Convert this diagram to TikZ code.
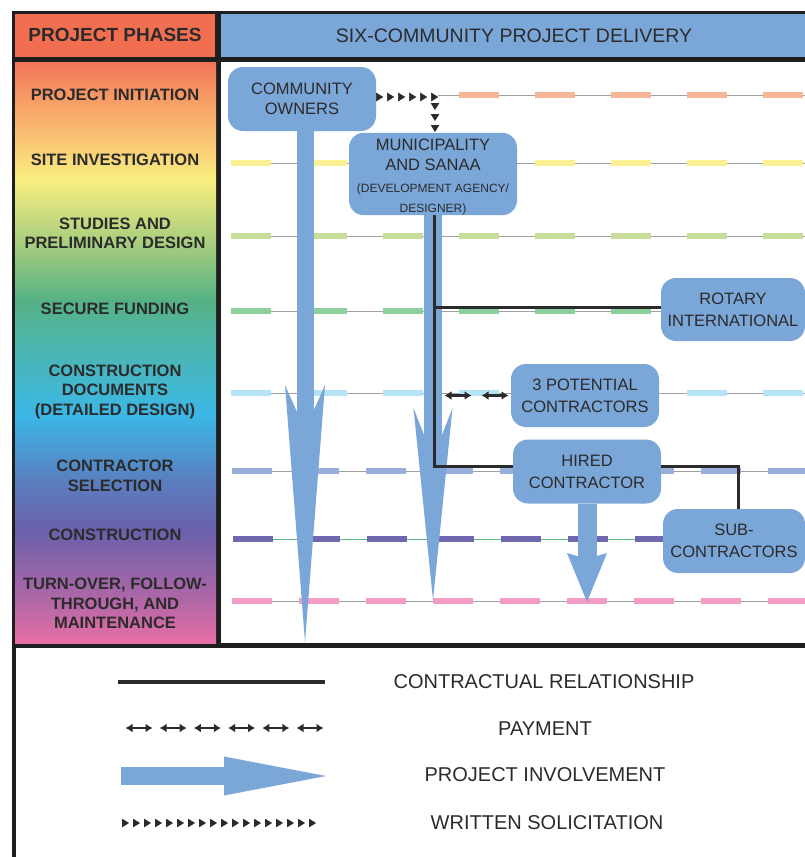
\documentclass[tikz,border=0pt]{standalone}
\usepackage{fontspec}
\setmainfont{Liberation Sans}
\usetikzlibrary{arrows.meta,decorations.markings}

\definecolor{boxblue}{HTML}{7BA6D8}
\definecolor{headred}{HTML}{F26E50}
\definecolor{inkgray}{HTML}{2B2B2B}
\definecolor{framegray}{HTML}{1E1E1E}
\definecolor{ruleline}{HTML}{A0A0A0}
\definecolor{rowa}{HTML}{F8B699}
\definecolor{rowb}{HTML}{FBF193}
\definecolor{rowc}{HTML}{C8DD9A}
\definecolor{rowd}{HTML}{8ED09D}
\definecolor{rowe}{HTML}{B5E3F7}
\definecolor{rowf}{HTML}{98AEDB}
\definecolor{rowg}{HTML}{6F68AE}
\definecolor{rowh}{HTML}{F29CC6}
\definecolor{rowgline}{HTML}{5DBB84}
% colours of the phase column
\definecolor{gra}{HTML}{F37658}
\definecolor{grb}{HTML}{F9BB71}
\definecolor{grc}{HTML}{F9EE80}
\definecolor{grd}{HTML}{9ECA7E}
\definecolor{gre}{HTML}{56B284}
\definecolor{grf}{HTML}{4DB6AE}
\definecolor{grg}{HTML}{3BB7E6}
\definecolor{grh}{HTML}{5A7FC0}
\definecolor{gri}{HTML}{6A60AB}
\definecolor{grj}{HTML}{B067A7}
\definecolor{grk}{HTML}{E96EA6}
\pgfdeclareverticalshading{phasegrad}{100bp}{color(0bp)=(grk); color(25bp)=(grk);
  color(28.7bp)=(grj); color(34.72bp)=(gri); color(39.03bp)=(grh); color(44.62bp)=(grg);
  color(50.64bp)=(grf); color(54.52bp)=(gre); color(58.82bp)=(grd); color(64.84bp)=(grc);
  color(69.15bp)=(grb); color(75bp)=(gra); color(100bp)=(gra)}

\tikzset{
  party/.style={rectangle, rounded corners=15pt, fill=boxblue, text=inkgray, align=center,
    inner sep=0pt, font=\fontsize{16.5}{22}\selectfont},
  phase/.style={align=center, text=inkgray, font=\bfseries\fontsize{16.5}{19.5}\selectfont},
  legend/.style={text=inkgray, font=\fontsize{20}{22}\selectfont},
  contract/.style={draw=inkgray, line width=3pt},
  involve/.style={draw=boxblue, line width=#1},
  paytip/.tip={Latex[length=7pt,width=9pt]},
  payment/.style 2 args={postaction={decorate, decoration={markings,
    mark=between positions #1 and 1 step #2 with {\draw[inkgray, line width=2.5pt, paytip-paytip] (-13.5pt,0) -- (13.5pt,0);}}}},
  solicit/.style={postaction={decorate, decoration={markings,
    mark=between positions #1 and 1 step 11pt with {\arrow[inkgray]{Triangle[length=7pt,width=8.5pt]}}}}}
}

\begin{document}
\begin{tikzpicture}[x=1pt,y=-1pt]
\useasboundingbox (0,0) rectangle (805,857);
\fill[white] (0,0) rectangle (805,857);

% frame and header
\fill[framegray] (12,11) rectangle (805,648);
\fill[framegray] (12,643) rectangle (16,857);
\fill[headred] (15,14) rectangle (215,57);
\fill[boxblue] (221,14) rectangle (805,57);
\shade[shading=phasegrad] (15,62) rectangle (216,643);
\fill[white] (221,62) rectangle (805,643);
\node[text=inkgray, font=\bfseries\fontsize{19}{20}\selectfont] (phasehead) at (115,34.5) {PROJECT PHASES};
\node[text=inkgray, font=\fontsize{19.5}{22}\selectfont] (deliveryhead) at (514,36) {SIX-COMMUNITY PROJECT DELIVERY};

% phases
\foreach \y/\txt [count=\i] in {95/{PROJECT INITIATION}, 160/{SITE INVESTIGATION},
    233.5/{STUDIES AND\\PRELIMINARY DESIGN}, 309/{SECURE FUNDING},
    391.5/{CONSTRUCTION\\DOCUMENTS\\(DETAILED DESIGN)}, 476/{CONTRACTOR\\SELECTION},
    535/{CONSTRUCTION}, 603.5/{TURN-OVER, FOLLOW-\\THROUGH, AND\\MAINTENANCE}}
  \node[phase] (phase\i) at (115,\y) {\txt};

\foreach \y/\col/\lc/\x/\ph/\gap in {95/rowa/ruleline/438/55pt/36pt, 163/rowb/ruleline/231/0pt/36pt,
    236/rowc/ruleline/231/0pt/36pt, 311/rowd/ruleline/231/0pt/36pt, 393/rowe/ruleline/231/0pt/36pt,
    471/rowf/ruleline/232/0pt/27pt, 539/rowg/rowgline/233/0pt/27pt, 601/rowh/ruleline/232/0pt/27pt}
{
  \draw[\lc, line width=1pt] (\x,\y) -- (805,\y);
  \draw[\col, line width=5.5pt, dash pattern=on 40pt off \gap, dash phase=\ph] (\x,\y) -- (805,\y);
}

% parties
\node[party, minimum width=148pt, minimum height=64pt] (owners) at (302,99) {COMMUNITY\\[-2pt]OWNERS};
\node[party, minimum width=168pt, minimum height=82pt] (muni) at (433,174)
  {\rule{0pt}{18pt}MUNICIPALITY\\[-2pt]AND SANAA\\{\fontsize{12}{14}\selectfont (DEVELOPMENT AGENCY/}\\[-2pt]{\fontsize{12}{14}\selectfont DESIGNER)}};
\node[party, minimum width=144pt, minimum height=63pt] (rotary) at (733,309.5) {ROTARY\\INTERNATIONAL};
\node[party, minimum width=148pt, minimum height=63pt] (potential) at (585,395.5) {3 POTENTIAL\\CONTRACTORS};
\node[party, minimum width=148pt, minimum height=64pt] (hired) at (587,471.5) {HIRED\\CONTRACTOR};
\node[party, minimum width=142pt, minimum height=64pt] (sub) at (734,541) {SUB-\\CONTRACTORS};

% project involvement
\coordinate (ownersend) at (305,642);
\coordinate (muniend) at (433,600);
\coordinate (hiredend) at (587,602);
\draw[involve=17pt, -{Stealth[length=257pt,width=40pt,inset=45pt,line width=0pt]}] (owners.south -| ownersend) -- (ownersend);
\draw[involve=18pt, -{Stealth[length=192pt,width=39pt,inset=50pt,line width=0pt]}] (muni.south) -- (muniend);
\draw[involve=19pt, -{Stealth[length=49pt,width=40pt,inset=6pt,line width=0pt]}] (hired.south) -- (hiredend);

% contracts
\coordinate (trunk) at ([xshift=1pt]muni.south);
\draw[contract] (trunk) |- ([yshift=5pt]hired.west);
\draw[contract] (trunk |- rotary.west) ++(0,-2) -- ([yshift=2pt]rotary.west);
\draw[contract] ([yshift=5pt]hired.east) -| ([xshift=4pt]sub.north);

% payment and solicitation
\path[payment={24pt}{37pt}] (trunk |- potential.west) -- (potential.west);
\coordinate (solbend) at (muni.north |- owners.east);
\path[solicit=7pt] ([yshift=2pt]owners.east) -- ([xshift=6pt,yshift=2pt]solbend);
\path[solicit=5pt] ([xshift=2pt,yshift=-6pt]solbend) -- ([xshift=2pt]muni.north);

% legend
\coordinate (lgaA) at (118,682); \coordinate (lgaB) at (325,682);
\coordinate (lgbA) at (125,728); \coordinate (lgbB) at (324,728);
\coordinate (lgcA) at (121,776); \coordinate (lgcB) at (326,776);
\coordinate (lgdA) at (123,823); \coordinate (lgdB) at (320,823);
\draw[contract, line width=3.5pt] (lgaA) -- (lgaB);
\path[payment={14pt}{34.2pt}] (lgbA) -- (lgbB);
\draw[involve=18pt, -{Stealth[length=102pt,width=39pt,inset=0pt,line width=0pt]}] (lgcA) -- (lgcB);
\path[solicit=6pt] (lgdA) -- (lgdB);
\node[legend] (lgtA) at (544,682) {CONTRACTUAL RELATIONSHIP};
\node[legend] (lgtB) at (545,729) {PAYMENT};
\node[legend] (lgtC) at (545,775) {PROJECT INVOLVEMENT};
\node[legend] (lgtD) at (547,823) {WRITTEN SOLICITATION};
\end{tikzpicture}
\end{document}
